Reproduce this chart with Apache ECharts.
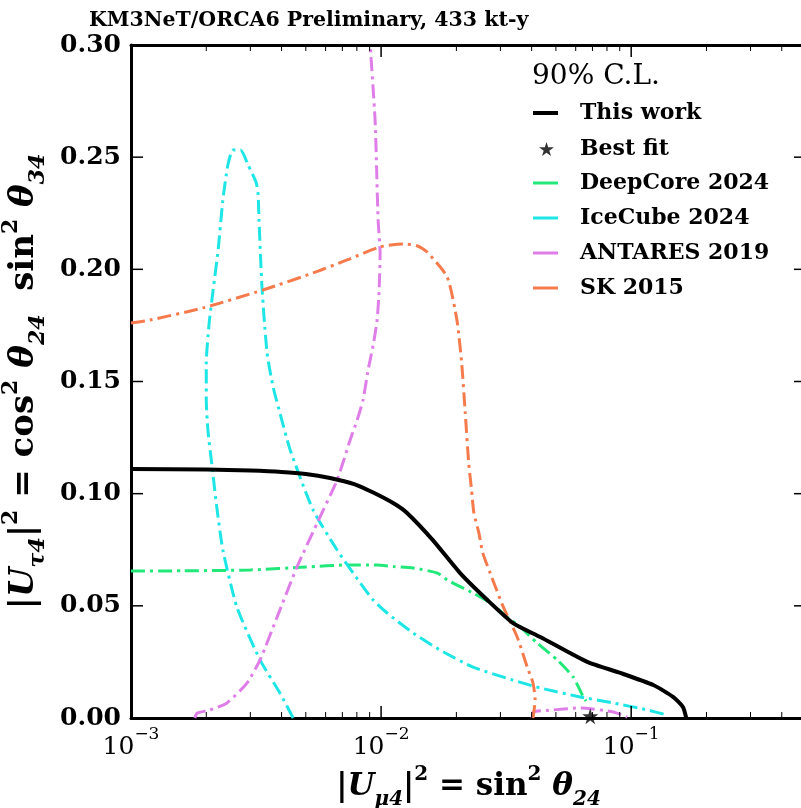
<!DOCTYPE html>
<html>
<head>
<meta charset="utf-8">
<script src="https://cdn.jsdelivr.net/npm/echarts@6/dist/echarts.min.js"></script>
<style>
  html, body { margin: 0; padding: 0; background: #fff; }
  #chart { width: 801px; height: 808px; }
</style>
</head>
<body>
<div id="chart"></div>
<script>
// contour points, [ |U_mu4|^2 , |U_tau4|^2 ]
const thisWork = [[0.001,0.111],[0.002,0.1108],[0.003,0.1103],[0.004,0.1097],[0.005,0.1088],[0.00625,0.107],[0.0078,0.1043],[0.0093,0.1005],[0.0113,0.0955],[0.0127,0.0914],[0.0161,0.0793],[0.0207,0.0646],[0.0266,0.0526],[0.0337,0.0423],[0.0433,0.0361],[0.0667,0.025],[0.0904,0.0201],[0.1225,0.0147],[0.147,0.0094],[0.161,0.0049],[0.166,0.0]]
const bestFit = [[0.0686, 0.0008]]
const deepCore = [[0.001,0.0655],[0.0016,0.0656],[0.003,0.066],[0.005,0.0673],[0.0073,0.0682],[0.0096,0.0682],[0.0112,0.0675],[0.0134,0.0669],[0.0168,0.0646],[0.0184,0.0615],[0.0233,0.0557],[0.0273,0.0513],[0.0319,0.045],[0.036,0.0406],[0.0421,0.0334],[0.0506,0.0259],[0.0586,0.0183],[0.0643,0.0094],[0.066,0.0075]]
const iceCube = [[0.00445,0],[0.00394,0.0111],[0.00328,0.0259],[0.00265,0.0495],[0.00233,0.0749],[0.00221,0.0927],[0.00211,0.1119],[0.00203,0.1284],[0.002,0.1418],[0.002,0.1582],[0.00205,0.1752],[0.00213,0.1908],[0.00223,0.2086],[0.00233,0.2309],[0.00244,0.2465],[0.00256,0.2532],[0.00274,0.2532],[0.00294,0.2465],[0.00316,0.2389],[0.00322,0.234],[0.00325,0.222],[0.00334,0.1921],[0.0035,0.1627],[0.0037,0.1476],[0.00394,0.136],[0.00433,0.1195],[0.00535,0.0927],[0.00667,0.0749],[0.00773,0.0646],[0.00929,0.0526],[0.01057,0.0468],[0.01343,0.0379],[0.0172,0.0303],[0.0233,0.0227],[0.0337,0.0169],[0.0433,0.0134],[0.0625,0.0094],[0.0847,0.0067],[0.1159,0.0036],[0.1393,0.0013]]
const antares = [[0.0018,0],[0.00184,0.0022],[0.00207,0.0036],[0.00242,0.0067],[0.00291,0.0156],[0.00328,0.0259],[0.00384,0.045],[0.00461,0.0673],[0.00555,0.0869],[0.00667,0.1061],[0.00752,0.1239],[0.00802,0.1328],[0.00847,0.1418],[0.00887,0.1551],[0.0093,0.1663],[0.00964,0.1774],[0.00982,0.1908],[0.00991,0.2073],[0.00973,0.222],[0.00946,0.2666],[0.00904,0.3]]
const antaresLow = [[0.0402,0],[0.0406,0.0027],[0.0488,0.0036],[0.0625,0.0045],[0.0847,0.0027],[0.0964,0.0004]]
const sk2015 = [[0.001,0.1761],[0.00119,0.1774],[0.00194,0.1828],[0.00337,0.1908],[0.00535,0.1984],[0.00731,0.2042],[0.00991,0.21],[0.01225,0.2113],[0.01393,0.2105],[0.01528,0.2077],[0.01837,0.1966],[0.0201,0.1774],[0.021,0.1582],[0.0217,0.136],[0.0224,0.1137],[0.023,0.1016],[0.0235,0.0914],[0.0246,0.0825],[0.0255,0.0736],[0.0273,0.0646],[0.0308,0.0495],[0.035,0.0361],[0.0384,0.0227],[0.0405,0.0156],[0.0413,0.008],[0.0405,0.0]]

const xMajor = [0.001, 0.01, 0.1]
const xMinor = [0.002,0.003,0.004,0.005,0.006,0.007,0.008,0.009,0.02,0.03,0.04,0.05,0.06,0.07,0.08,0.09,0.2,0.3,0.4]
const yTicks = [0, 0.05, 0.1, 0.15, 0.2, 0.25, 0.3]

const serif = "'DejaVu Serif', serif"
const STAR = 'path://M50,0L61,35L98,35L68,57L79,91L50,70L21,91L32,57L2,35L39,35Z'
const dashDot = [14, 5, 3, 5]
const X_MIN = 0.001, X_MAX = 0.5, Y_MIN = 0, Y_MAX = 0.3

const chart = echarts.init(document.getElementById('chart'))

function xAxisDef(pos, main) {
  return {
    type: 'log', logBase: 10, min: X_MIN, max: X_MAX, position: pos,
    axisLine: { show: true, onZero: false, lineStyle: { color: '#000', width: 3 } },
    axisTick: { show: false },
    axisLabel: main ? {
      show: true, customValues: xMajor, margin: 8,
      formatter: v => '{b|10}{s|\u2212' + Math.round(-Math.log10(v)) + '}',
      rich: {
        b: { fontFamily: serif, fontSize: 25, color: '#000', lineHeight: 34, verticalAlign: 'bottom' },
        s: { fontFamily: serif, fontSize: 17, color: '#000', lineHeight: 17, verticalAlign: 'top' }
      }
    } : { show: false },
    splitLine: { show: false }
  }
}

function yAxisDef(pos, main) {
  return {
    type: 'value', min: Y_MIN, max: Y_MAX, interval: 0.05, position: pos,
    axisLine: { show: true, onZero: false, lineStyle: { color: '#000', width: 3 } },
    axisTick: { show: false },
    axisLabel: main ? { show: true, fontFamily: serif, fontWeight: 'bold', fontSize: 25, color: '#000', margin: 10, formatter: v => v.toFixed(2) } : { show: false },
    splitLine: { show: false }
  }
}

function nameRich(size) {
  const s = Math.round(size * 0.66)
  return {
    n: { fontFamily: serif, fontSize: size, fontWeight: 'bold', color: '#000', lineHeight: size * 1.45 },
    i: { fontFamily: serif, fontSize: size, fontWeight: 'bold', fontStyle: 'italic', color: '#000', lineHeight: size * 1.45 },
    sub: { fontFamily: serif, fontSize: s, fontWeight: 'bold', fontStyle: 'italic', color: '#000', lineHeight: s, verticalAlign: 'bottom' },
    sup: { fontFamily: serif, fontSize: s, fontWeight: 'bold', color: '#000', lineHeight: s, verticalAlign: 'top' }
  }
}

const xAx = xAxisDef('bottom', true)
xAx.name = '{n||}{i|U}{sub|\u03bc4}{n||}{sup|2}{n| = sin}{sup|2}{i| \u03b8}{sub|24}'
xAx.nameLocation = 'middle'
xAx.nameGap = 44
xAx.nameTextStyle = { rich: nameRich(31) }

const yAx = yAxisDef('left', true)
yAx.name = '{n||}{i|U}{sub|\u03c44}{n||}{sup|2}{n| = cos}{sup|2}{i| \u03b8}{sub|24}{n|  sin}{sup|2}{i| \u03b8}{sub|34}'
yAx.nameLocation = 'middle'
yAx.nameRotate = 90
yAx.nameGap = 50
yAx.nameTextStyle = { rich: nameRich(34) }

function contour(name, data, color, width, type) {
  return {
    type: 'line', name, data, showSymbol: false, symbol: 'none', smooth: 0.2,
    color, itemStyle: { color }, lineStyle: { color, width, type }, z: 3, silent: true
  }
}

// frame ticks: [x, y, dx px, dy px], anchored through the axis scales
const tickRows = [].concat(
  xMajor.map(v => [v, Y_MIN, 0, -12]),
  xMajor.map(v => [v, Y_MAX, 0, 12]),
  xMinor.map(v => [v, Y_MIN, 0, -6]),
  xMinor.map(v => [v, Y_MAX, 0, 6]),
  yTicks.map(v => [X_MIN, v, 12, 0]),
  yTicks.map(v => [X_MAX, v, -12, 0])
)

const legendText = { fontFamily: serif, fontWeight: 'bold', fontSize: 22, color: '#000', lineHeight: 24 }

chart.setOption({
  animation: false,
  backgroundColor: '#fff',
  title: [
    { text: 'KM3NeT/ORCA6 Preliminary, 433 kt-y', left: 84, top: 5,
      textStyle: { fontFamily: serif, fontWeight: 'bold', fontSize: 20.5, color: '#000' } },
    { text: '90% C.L.', left: 527, top: 58,
      textStyle: { fontFamily: serif, fontWeight: 'normal', fontSize: 28, color: '#000' } }
  ],
  grid: { left: 131, right: -5, top: 45, bottom: 90, outerBoundsMode: 'none', containLabel: false },
  xAxis: [xAx, xAxisDef('top', false)],
  yAxis: [yAx, yAxisDef('right', false)],
  legend: [
    { data: [{ name: 'This work', icon: 'rect' }], left: 528, top: 96, orient: 'vertical',
      itemWidth: 25, itemHeight: 4, selectedMode: false, textStyle: Object.assign({ padding: [0, 0, 0, 17] }, legendText) },
    { data: [{ name: 'Best fit', icon: STAR }], left: 534, top: 132, orient: 'vertical',
      itemWidth: 15, itemHeight: 15, selectedMode: false, textStyle: Object.assign({ padding: [0, 0, 0, 21] }, legendText) },
    { data: ['DeepCore 2024', 'IceCube 2024', 'ANTARES 2019', 'SK 2015'].map(n => ({ name: n, icon: 'rect' })),
      left: 528, top: 166, orient: 'vertical', itemGap: 11,
      itemWidth: 25, itemHeight: 3, selectedMode: false, textStyle: Object.assign({ padding: [0, 0, 0, 17] }, legendText) }
  ],
  series: [
    contour('DeepCore 2024', deepCore, '#22e87a', 3, dashDot),
    contour('IceCube 2024', iceCube, '#1ee6e6', 3, dashDot),
    contour('ANTARES 2019', antares, '#df7ee9', 3, dashDot),
    contour('ANTARES 2019', antaresLow, '#df7ee9', 3, dashDot),
    contour('SK 2015', sk2015, '#f57a4c', 3, dashDot),
    contour('This work', thisWork, '#000', 4, 'solid'),
    { type: 'scatter', name: 'Best fit', data: bestFit, symbol: STAR, symbolSize: 16,
      itemStyle: { color: '#000' }, z: 4, silent: true },
    {
      type: 'custom', name: 'frame ticks', data: tickRows, encode: { x: 0, y: 1 },
      clip: false, silent: true, z: 6,
      renderItem: (params, api) => {
        const p = api.coord([api.value(0), api.value(1)])
        const dx = api.value(2), dy = api.value(3)
        const major = Math.abs(dx) + Math.abs(dy) >= 12
        return {
          type: 'line',
          shape: { x1: p[0], y1: p[1], x2: p[0] + dx, y2: p[1] + dy },
          style: { stroke: '#000', lineWidth: major ? 1.5 : 1 }
        }
      }
    }
  ]
})
</script>
</body>
</html>
